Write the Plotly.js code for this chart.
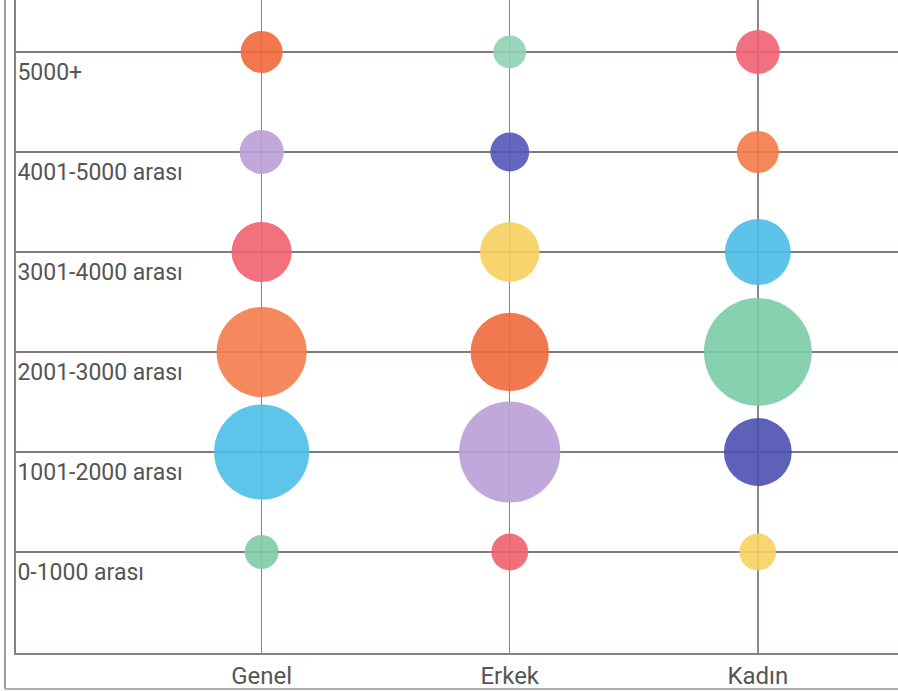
<!DOCTYPE html>
<html>
<head>
<meta charset="utf-8">
<script src="https://cdn.plot.ly/plotly-3.0.1.min.js"></script>
<style>html,body{margin:0;padding:0;background:#fff;}#chart{width:898px;height:691px;}</style>
</head>
<body>
<div id="chart"></div>
<script>
// Columns (x categories)
const groups = ["Genel", "Erkek", "Kadın"];
// Income bands (y categories), bottom to top
const bands = ["0-1000 arası", "1001-2000 arası", "2001-3000 arası", "3001-4000 arası", "4001-5000 arası", "5000+"];
// Share (%) of each band per group
const genelValues = [4.5, 35.3, 31.7, 14.1, 7.6, 6.9];
const erkekValues = [5.3, 40.0, 24.0, 13.8, 5.9, 4.2];
const kadinValues = [5.3, 18.0, 45.4, 16.9, 6.9, 7.5];
// Bubble colours per group (bottom to top)
const genelColors = ["#7fcbaa", "#4cbfe8", "#f47c4c", "#ef6270", "#b9a0d6", "#f2683a"];
const erkekColors = ["#ef606c", "#b9a0d6", "#f16a3c", "#f6cf5e", "#5256b8", "#8ed2b4"];
const kadinColors = ["#f6d062", "#4b50b2", "#7acca8", "#4bbde6", "#f47b46", "#ef6272"];

const seriesValues = [genelValues, erkekValues, kadinValues];
const seriesColors = [genelColors, erkekColors, kadinColors];
const K = 16; // px diameter per sqrt(%)

const traces = groups.map((g, gi) => ({
  type: "scatter",
  mode: "markers",
  x: bands.map(() => gi),
  y: bands.map((b, bi) => bi),
  text: bands,
  marker: {
    size: seriesValues[gi].map(v => K * Math.sqrt(v)),
    sizemode: "diameter",
    color: seriesColors[gi],
    opacity: 0.9,
    line: {width: 0}
  },
  hoverinfo: "text",
  showlegend: false
}));

const layout = {
  width: 898, height: 691,
  margin: {l: 16, r: 0, t: 0, b: 38},
  paper_bgcolor: "#ffffff",
  plot_bgcolor: "#ffffff",
  font: {family: "Roboto, 'Open Sans', sans-serif", size: 22, color: "#555555"},
  xaxis: {
    range: [-0.99, 2.565],
    tickvals: groups.map((g, i) => i),
    ticktext: groups,
    showgrid: true, gridcolor: "#8f8585", gridwidth: 1.5,
    zeroline: false,
    showline: true, linecolor: "#8a8080", linewidth: 2,
    ticks: "", ticklen: 0,
    tickfont: {size: 24, color: "#555555"},
    fixedrange: true
  },
  yaxis: {
    range: [-1.01, 5.52],
    tickvals: bands.map((b, i) => i),
    ticktext: bands,
    showgrid: true, gridcolor: "#857a7a", gridwidth: 2,
    zeroline: false,
    showline: true, linecolor: "#8a8080", linewidth: 2,
    ticks: "",
    ticklabelposition: "inside",
    ticklabelshift: 20,
    ticklabelstandoff: 3,
    tickfont: {size: 23, color: "#555555"},
    fixedrange: true
  },
  shapes: [
    {type: "line", xref: "paper", yref: "paper", x0: -0.0125, x1: -0.0125, y0: -0.055, y1: 1.0,
     line: {color: "#9a9a9a", width: 2}},
    {type: "line", xref: "paper", yref: "paper", x0: -0.0125, x1: 1.0, y0: -0.055, y1: -0.055,
     line: {color: "#b0b0b0", width: 2}}
  ]
};

Plotly.newPlot("chart", traces, layout, {displayModeBar: false, staticPlot: true});
</script>
</body>
</html>
